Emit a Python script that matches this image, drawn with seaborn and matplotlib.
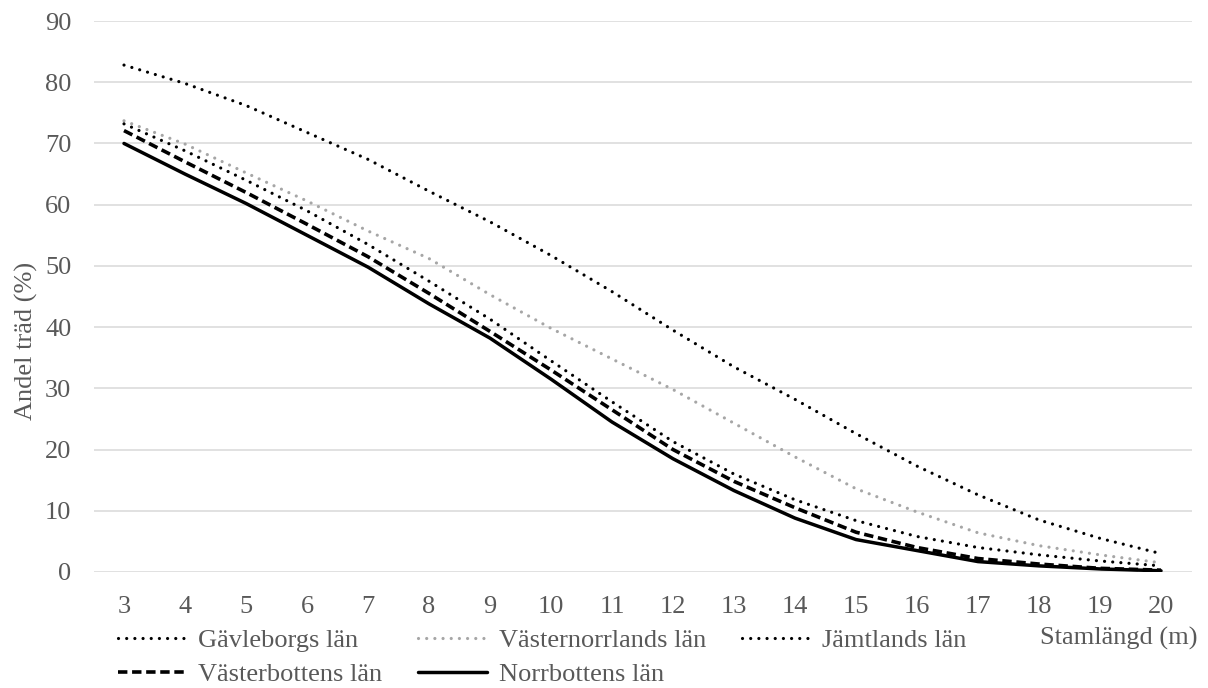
import numpy as np
import pandas as pd
import matplotlib
matplotlib.use("Agg")
import matplotlib.pyplot as plt
import seaborn as sns

# ---- data ----
stamlangd = [3, 4, 5, 6, 7, 8, 9, 10, 11, 12, 13, 14, 15, 16, 17, 18, 19, 20]
gavleborg = [82.8, 79.8, 76.2, 71.8, 67.4, 62.2, 57.2, 51.7, 45.8, 39.5, 33.5, 28.2, 22.6, 17.3, 12.6, 8.5, 5.5, 3.0]
vasternorrland = [73.7, 69.9, 65.2, 60.6, 55.7, 51.2, 45.3, 39.8, 34.8, 29.8, 24.3, 18.8, 13.6, 9.8, 6.4, 4.3, 2.8, 1.5]
jamtland = [73.2, 68.8, 64.0, 59.0, 53.5, 47.5, 41.3, 34.5, 27.8, 21.3, 16.0, 11.8, 8.4, 5.8, 4.0, 2.8, 1.8, 1.0]
vasterbotten = [72.1, 67.0, 62.0, 56.8, 51.5, 45.5, 39.3, 33.0, 26.5, 20.0, 14.8, 10.5, 6.5, 4.0, 2.2, 1.3, 0.6, 0.3]
norrbotten = [70.0, 65.0, 60.2, 55.0, 49.8, 43.8, 38.2, 31.5, 24.5, 18.5, 13.3, 8.8, 5.3, 3.5, 1.7, 1.0, 0.5, 0.2]
series_names = ["Gävleborgs län", "Västernorrlands län", "Jämtlands län",
                "Västerbottens län", "Norrbottens län"]
y_ticks = [0, 10, 20, 30, 40, 50, 60, 70, 80, 90]
y_label = "Andel träd (%)"
x_label = "Stamlängd (m)"

series_values = [gavleborg, vasternorrland, jamtland, vasterbotten, norrbotten]

sns.set_theme(style="white")
plt.rcParams["font.family"] = ["Liberation Serif", "DejaVu Serif"]

W, H = 1208, 688
fig = plt.figure(figsize=(W / 100, H / 100), dpi=100)
ax = fig.add_axes([93.5 / W, (H - 572) / H, 1098 / W, 551 / H])

dot = (0, (0.01, 2.55))
styles = [
    dict(color="black", linestyle=dot, linewidth=2.3, dash_capstyle="round"),
    dict(color="#a6a6a6", linestyle=dot, linewidth=2.3, dash_capstyle="round"),
    dict(color="black", linestyle=dot, linewidth=2.3, dash_capstyle="round"),
    dict(color="black", linestyle=(0, (2.6, 1.3)), linewidth=2.6),
    dict(color="black", linestyle="-", linewidth=2.5),
]

for name, vals, st in zip(series_names, series_values, styles):
    df = pd.DataFrame({"x": stamlangd, "y": vals})
    sns.lineplot(data=df, x="x", y="y", ax=ax, label=name, **st)

ax.set_xlim(2.5, 20.5)
ax.set_ylim(0, 90)
ax.set_xticks(stamlangd)
ax.set_xticklabels([str(v) for v in stamlangd])
ax.set_yticks(y_ticks)
ax.set_yticklabels([str(v) for v in y_ticks])
ax.grid(axis="y", color="#d9d9d9", linewidth=1.1)
ax.grid(axis="x", visible=False)
ax.set_axisbelow(True)
for s in ax.spines.values():
    s.set_visible(False)
ax.tick_params(axis="both", length=0, labelsize=19, labelcolor="#595959")
ax.tick_params(axis="x", pad=17)
ax.tick_params(axis="y", pad=16)
ax.set_xlabel("")
ax.set_ylabel(y_label, fontsize=19, color="#595959")
ax.yaxis.set_label_coords((38 - 93.5) / 1098, 0.42)

handles, labels = ax.get_legend_handles_labels()
ax.get_legend().remove()
order = [0, 3, 1, 4, 2]
fig.legend([handles[i] for i in order], [labels[i] for i in order],
           ncol=3, loc="upper left", bbox_to_anchor=(118 / W, 1 - 629 / H),
           frameon=False, fontsize=19, labelcolor="#595959",
           handlelength=2.6, handletextpad=0.45, columnspacing=1.35,
           labelspacing=0.38, borderpad=0, borderaxespad=0)

fig.text(1197 / W, 1 - 638 / H, x_label, ha="right", va="center",
         fontsize=19, color="#595959")

fig.savefig("out.png", dpi=100)
